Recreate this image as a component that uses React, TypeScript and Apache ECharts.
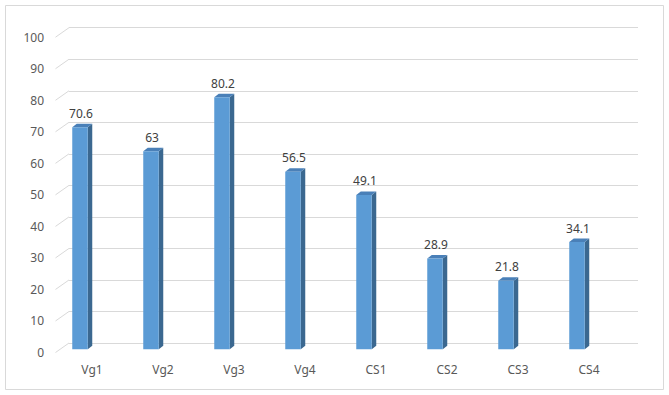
import React, { useEffect, useRef } from "react";
import * as echarts from "echarts";

const categories = ["Vg1", "Vg2", "Vg3", "Vg4", "CS1", "CS2", "CS3", "CS4"];
const values = [70.6, 63, 80.2, 56.5, 49.1, 28.9, 21.8, 34.1];
const yTicks = [0, 10, 20, 30, 40, 50, 60, 70, 80, 90, 100];

const FONT = "'Noto Sans', 'Open Sans', sans-serif";
const TEXT = "#595959";

export default function App() {
  const ref = useRef<HTMLDivElement>(null);
  useEffect(() => {
    document.body.style.margin = "0";
    const chart = echarts.init(ref.current!, null, { renderer: "svg" });
    const H = 395;
    const option: any = {
      animation: false,
      backgroundColor: "#ffffff",
      graphic: [
        {
          type: "rect",
          shape: { x: 5.5, y: 5.5, width: 658, height: 384 },
          style: { fill: "none", stroke: "#d9d9d9", lineWidth: 1 },
          silent: true,
        },
      ],
      grid: [
        // back wall (gridlines)
        { left: 69, right: 669 - 638, top: 27.7, bottom: H - 343 },
        // front plane for y labels
        { left: 56, right: 669 - 625, top: 37.5, bottom: H - 352 },
        // bar plane
        { left: 44.5, width: 568, top: 34.9, bottom: H - 349.3 },
        // category label plane
        { left: 56.5, width: 568, top: 34.9, bottom: H - 349.3 },
      ],
      xAxis: [
        { gridIndex: 0, type: "category", data: categories, show: false },
        { gridIndex: 1, type: "category", data: categories, show: false },
        { gridIndex: 2, type: "category", data: categories, show: false },
        {
          gridIndex: 3,
          type: "category",
          data: categories,
          axisLine: { show: false },
          axisTick: { show: false },
          axisLabel: { color: TEXT, fontSize: 12, fontFamily: FONT, margin: 14 },
        },
      ],
      yAxis: [
        {
          gridIndex: 0,
          type: "value",
          min: 0,
          max: 100,
          interval: 10,
          axisLine: { show: false },
          axisTick: { show: false },
          axisLabel: { show: false },
          splitLine: { lineStyle: { color: "#d9d9d9", width: 1 } },
        },
        {
          gridIndex: 1,
          type: "value",
          min: 0,
          max: 100,
          interval: 10,
          axisLine: { show: false },
          axisTick: { show: false },
          splitLine: { show: false },
          axisLabel: { color: TEXT, fontSize: 12, fontFamily: FONT, margin: 12 },
        },
        { gridIndex: 2, type: "value", min: 0, max: 100, interval: 10, show: false },
        { gridIndex: 3, type: "value", min: 0, max: 100, interval: 10, show: false },
      ],
      series: [
        {
          type: "custom",
          xAxisIndex: 0,
          yAxisIndex: 0,
          silent: true,
          data: yTicks.map((t) => [0, t]),
          renderItem: (params: any, api: any) => {
            const cs = params.coordSys;
            const p = api.coord([0, api.value(1)]);
            return {
              type: "line",
              shape: { x1: cs.x - 13.5, y1: p[1] + 9.5, x2: cs.x, y2: p[1] },
              style: { stroke: "#d9d9d9", lineWidth: 1 },
            };
          },
        },
        {
          type: "custom",
          xAxisIndex: 2,
          yAxisIndex: 2,
          silent: true,
          data: values.map((v, i) => [i, v]),
          renderItem: (params: any, api: any) => {
            const i = api.value(0);
            const v = api.value(1);
            const top = api.coord([i, v]);
            const base = api.coord([i, 0]);
            const w = 15.5;
            const dx = 4.5;
            const dy = 3.5;
            const x0 = top[0] - w / 2;
            const x1 = top[0] + w / 2;
            return {
              type: "group",
              children: [
                {
                  type: "polygon",
                  shape: {
                    points: [
                      [x1, top[1]],
                      [x1 + dx, top[1] - dy],
                      [x1 + dx, base[1] - dy],
                      [x1, base[1]],
                    ],
                  },
                  style: { fill: "#3b6890" },
                },
                {
                  type: "polygon",
                  shape: {
                    points: [
                      [x0, top[1]],
                      [x0 + dx, top[1] - dy],
                      [x1 + dx, top[1] - dy],
                      [x1, top[1]],
                    ],
                  },
                  style: { fill: "#4a80b8" },
                },
                {
                  type: "rect",
                  shape: { x: x0, y: top[1], width: w, height: base[1] - top[1] },
                  style: { fill: "#5b9bd5" },
                },
                {
                  type: "text",
                  x: top[0] + 1,
                  y: top[1] - 14,
                  style: {
                    text: String(v),
                    fill: "#404040",
                    fontSize: 12,
                    fontFamily: FONT,
                    align: "center",
                    verticalAlign: "middle",
                  },
                },
              ],
            };
          },
        },
      ],
    };
    chart.setOption(option);
    return () => chart.dispose();
  }, []);
  return <div ref={ref} style={{ width: 669, height: 395 }} />;
}
